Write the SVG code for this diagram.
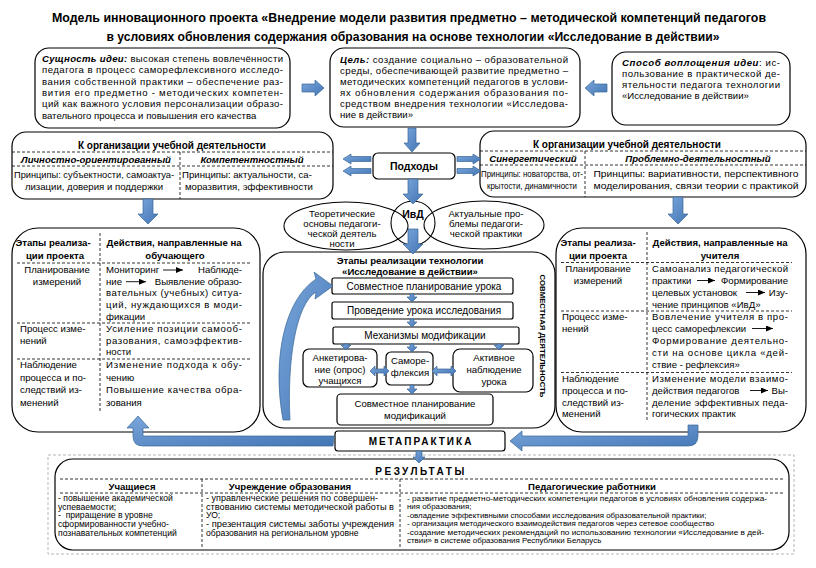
<svg xmlns="http://www.w3.org/2000/svg" width="816" height="568" viewBox="0 0 816 568">
<style>
.t{font-family:"Liberation Sans",Arial,sans-serif;font-size:9.6px;fill:#000}
.m{text-anchor:middle}
.e{text-anchor:end}
.b{font-weight:bold}
.bi{font-weight:bold;font-style:italic}
.ttl{font-family:"Liberation Sans",Arial,sans-serif;font-size:13px;font-weight:bold;text-anchor:middle}
.r{font-size:8.6px}
.rs{font-size:7.9px}
.box{fill:#fff;stroke:#000;stroke-width:1.2}
.dash{stroke:#000;stroke-width:0.8;stroke-dasharray:3 2;fill:none}
.arr{fill:url(#bl);stroke:#3a6797;stroke-width:0.7}
.ln{stroke:#000;stroke-width:0.9;fill:none;marker-end:url(#tri)}
</style>
<defs>
<linearGradient id="bl" x1="0" y1="0" x2="1" y2="1">
<stop offset="0" stop-color="#7aa6dc"/>
<stop offset="1" stop-color="#4376b5"/>
</linearGradient>
<marker id="tri" markerUnits="userSpaceOnUse" markerWidth="7" markerHeight="6" refX="7" refY="3" orient="auto">
<path d="M0,0 L7,3 L0,6 Z" fill="#000"/>
</marker>
</defs>
<rect width="816" height="568" fill="#fff"/>

<g id="title">
<text class="ttl" x="409" y="21.5" textLength="714" lengthAdjust="spacingAndGlyphs">Модель инновационного проекта «Внедрение модели развития предметно – методической компетенций педагогов</text>
<text class="ttl" x="413" y="40.5" textLength="613" lengthAdjust="spacingAndGlyphs">в условиях обновления содержания образования на основе технологии «Исследование в действии»</text>
</g>

<g id="idea">
<rect class="box" x="35" y="48" width="255" height="80" rx="14"/>
<text class="t" x="42" y="62" textLength="241" lengthAdjust="spacing"><tspan class="bi">Сущность идеи:</tspan> высокая степень вовлечённости</text>
<text class="t" x="42" y="73.3" textLength="241" lengthAdjust="spacing">педагога в процесс саморефлексивного исследо-</text>
<text class="t" x="42" y="84.6" textLength="241" lengthAdjust="spacing">вания собственной практики – обеспечение раз-</text>
<text class="t" x="42" y="96" textLength="241" lengthAdjust="spacing">вития его предметно -  методических компетен-</text>
<text class="t" x="42" y="107.3" textLength="241" lengthAdjust="spacing">ций как важного условия персонализации образо-</text>
<text class="t" x="42" y="118.6">вательного процесса и повышения его качества</text>
</g>

<g id="goal">
<rect class="box" x="330" y="48" width="250" height="79" rx="14"/>
<text class="t" x="340" y="63" textLength="228" lengthAdjust="spacing"><tspan class="bi">Цель:</tspan> создание социально – образовательной</text>
<text class="t" x="340" y="74" textLength="228" lengthAdjust="spacing">среды, обеспечивающей развитие предметно –</text>
<text class="t" x="340" y="85" textLength="228" lengthAdjust="spacing">методических компетенций педагогов в услови-</text>
<text class="t" x="340" y="96" textLength="228" lengthAdjust="spacing">ях обновления содержания образования по-</text>
<text class="t" x="340" y="107" textLength="228" lengthAdjust="spacing">средством внедрения технологии «Исследова-</text>
<text class="t" x="340" y="118">ние в действии»</text>
</g>

<g id="method">
<rect class="box" x="612" y="52" width="178" height="73" rx="14"/>
<text class="t" x="622" y="66" textLength="158" lengthAdjust="spacing"><tspan class="bi">Способ воплощения идеи</tspan>: ис-</text>
<text class="t" x="622" y="77" textLength="158" lengthAdjust="spacing">пользование в практической де-</text>
<text class="t" x="622" y="88" textLength="158" lengthAdjust="spacing">ятельности педагога технологии</text>
<text class="t" x="622" y="99">«Исследование в действии»</text>
</g>

<g id="approaches">
<rect class="box" x="373" y="153" width="82" height="26" rx="5"/>
<text class="t b m" x="414" y="169.5" style="font-size:10.5px">Подходы</text>
</g>

<g id="org-left">
<rect class="box" x="12" y="132" width="321" height="67" rx="14"/>
<text class="t b m" x="172" y="148.5" style="font-size:10px">К организации учебной деятельности</text>
<line class="dash" x1="12" y1="152" x2="333" y2="152"/>
<line class="dash" x1="12" y1="166" x2="333" y2="166"/>
<line class="dash" x1="180" y1="152" x2="180" y2="199"/>
<text class="t bi m" x="96" y="162.5">Личностно-ориентированный</text>
<text class="t bi m" x="252" y="162.5">Компетентностный</text>
<text class="t m" x="94" y="177.5" textLength="160" lengthAdjust="spacingAndGlyphs">Принципы: субъектности, самоактуа-</text>
<text class="t m" x="94" y="190">лизации, доверия и поддержки</text>
<text class="t m" x="247" y="177.5">Принципы: актуальности, са-</text>
<text class="t m" x="249" y="190">моразвития, эффективности</text>
</g>

<g id="org-right">
<rect class="box" x="480" y="131" width="326" height="66" rx="14"/>
<text class="t b m" x="627" y="147.5" style="font-size:10px">К организации учебной деятельности</text>
<line class="dash" x1="480" y1="151" x2="806" y2="151"/>
<line class="dash" x1="480" y1="165" x2="806" y2="165"/>
<line class="dash" x1="585" y1="151" x2="585" y2="197"/>
<text class="t bi m" x="533" y="161.5">Синергетический</text>
<text class="t bi m" x="698" y="161.5">Проблемно-деятельностный</text>
<text class="t m" x="532" y="176.5" textLength="102" lengthAdjust="spacingAndGlyphs">Принципы: новаторства, от-</text>
<text class="t m" x="532" y="188.5" textLength="90" lengthAdjust="spacingAndGlyphs">крытости, динамичности</text>
<text class="t m" x="696" y="176.5" textLength="205" lengthAdjust="spacingAndGlyphs">Принципы: вариативности, перспективного</text>
<text class="t m" x="696" y="188.5" textLength="205" lengthAdjust="spacingAndGlyphs">моделирования, связи теории с практикой</text>
</g>

<g id="theory">
<ellipse cx="346" cy="226" rx="62" ry="24" fill="none" stroke="#000" stroke-width="1.1"/>
<text class="t m" x="342" y="216.5">Теоретические</text>
<text class="t m" x="342" y="226.5">основы педагоги-</text>
<text class="t m" x="342" y="236.5">ческой деятель</text>
<text class="t m" x="342" y="247">ности</text>
</g>
<g id="problems">
<ellipse cx="484" cy="225" rx="60" ry="24" fill="none" stroke="#000" stroke-width="1.1"/>
<text class="t m" x="486" y="216.5">Актуальные про-</text>
<text class="t m" x="486" y="226.5">блемы педагоги-</text>
<text class="t m" x="486" y="236.5">ческой практики</text>
</g>
<g id="ivd">
<circle cx="413" cy="223" r="22" fill="none" stroke="#000" stroke-width="1.1"/>
<text class="t b m" x="413" y="218" style="font-size:10.5px">ИвД</text>
</g>

<g id="stages-left">
<rect class="box" x="12" y="228" width="248" height="204" rx="26"/>
<line class="dash" x1="100" y1="233" x2="100" y2="412"/>
<line class="dash" x1="17" y1="263" x2="250" y2="263"/>
<line class="dash" x1="17" y1="323" x2="250" y2="323"/>
<line class="dash" x1="17" y1="359" x2="250" y2="359"/>
<text class="t b m" x="53" y="246">Этапы реализа-</text>
<text class="t b m" x="55" y="259">ции проекта</text>
<text class="t b m" x="174" y="246">Действия, направленные на</text>
<text class="t b m" x="175" y="259">обучающего</text>
<text class="t m" x="57" y="273">Планирование</text>
<text class="t m" x="57" y="285">измерений</text>
<text class="t" x="106" y="273">Мониторинг</text>
<line class="ln" x1="163" y1="270" x2="183" y2="270"/>
<text class="t e" x="242" y="273">Наблюде-</text>
<text class="t" x="106" y="284.7">ние</text>
<line class="ln" x1="126" y1="281.7" x2="146" y2="281.7"/>
<text class="t e" x="242" y="284.7">Выявление образо-</text>
<text class="t" x="106" y="296.4" textLength="136" lengthAdjust="spacing">вательных (учебных) ситуа-</text>
<text class="t" x="106" y="308" textLength="136" lengthAdjust="spacing">ций, нуждающихся в моди-</text>
<text class="t" x="106" y="319.7">фикации</text>
<text class="t" x="20" y="332">Процесс изме-</text>
<text class="t" x="20" y="343.5">нений</text>
<text class="t" x="106" y="332" textLength="136" lengthAdjust="spacing">Усиление позиции самооб-</text>
<text class="t" x="106" y="343.5" textLength="136" lengthAdjust="spacing">разования,   самоэффектив-</text>
<text class="t" x="106" y="355">ности</text>
<text class="t" x="20" y="368">Наблюдение</text>
<text class="t" x="20" y="380.5">процесса и по-</text>
<text class="t" x="20" y="393">следствий из-</text>
<text class="t" x="20" y="405.5">менений</text>
<text class="t" x="106" y="368" textLength="136" lengthAdjust="spacing">Изменение подхода к обу-</text>
<text class="t" x="106" y="380.5">чению</text>
<text class="t" x="106" y="393" textLength="136" lengthAdjust="spacing">Повышение качества обра-</text>
<text class="t" x="106" y="405.5">зования</text>
</g>

<g id="stages-right">
<rect class="box" x="556" y="228" width="250" height="204" rx="26"/>
<line class="dash" x1="647" y1="232" x2="647" y2="420"/>
<line class="dash" x1="561" y1="262.5" x2="792" y2="262.5"/>
<line class="dash" x1="561" y1="311" x2="792" y2="311"/>
<line class="dash" x1="561" y1="372.5" x2="792" y2="372.5"/>
<text class="t b m" x="598" y="246">Этапы реализа-</text>
<text class="t b m" x="598" y="259">ции проекта</text>
<text class="t b m" x="720" y="246">Действия, направленные на</text>
<text class="t b m" x="720" y="259">учителя</text>
<text class="t m" x="598" y="271.5">Планирование</text>
<text class="t m" x="598" y="283.5">измерений</text>
<text class="t" x="652" y="271.5" textLength="136" lengthAdjust="spacing">Самоанализ педагогической</text>
<text class="t" x="652" y="283.5">практики</text>
<line class="ln" x1="697" y1="280.5" x2="715" y2="280.5"/>
<text class="t e" x="788" y="283.5">Формирование</text>
<text class="t" x="652" y="295.5">целевых установок</text>
<line class="ln" x1="746" y1="292.5" x2="765" y2="292.5"/>
<text class="t e" x="788" y="295.5">Изу-</text>
<text class="t" x="652" y="307.5">чение принципов «ИвД»</text>
<text class="t" x="562" y="320">Процесс изме-</text>
<text class="t" x="562" y="331.5">нений</text>
<text class="t" x="652" y="320" textLength="136" lengthAdjust="spacing">Вовлечение учителя в про-</text>
<text class="t" x="652" y="331.5">цесс саморефлексии</text>
<line class="ln" x1="752" y1="328.5" x2="773" y2="328.5"/>
<text class="t" x="652" y="343.5" textLength="136" lengthAdjust="spacing">Формирование   деятельно-</text>
<text class="t" x="652" y="355.5" textLength="136" lengthAdjust="spacing">сти на основе цикла «дей-</text>
<text class="t" x="652" y="367.5">ствие - рефлексия»</text>
<text class="t" x="562" y="381.5">Наблюдение</text>
<text class="t" x="562" y="393.5">процесса и по-</text>
<text class="t" x="562" y="405.5">следствий из-</text>
<text class="t" x="562" y="417">менений</text>
<text class="t" x="652" y="381.5" textLength="136" lengthAdjust="spacing">Изменение модели взаимо-</text>
<text class="t" x="652" y="393.5">действия педагогов</text>
<line class="ln" x1="750" y1="390.5" x2="768" y2="390.5"/>
<text class="t e" x="788" y="393.5">Вы-</text>
<text class="t" x="652" y="405.5" textLength="136" lengthAdjust="spacing">деление эффективных педа-</text>
<text class="t" x="652" y="417">гогических практик</text>
</g>

<g id="tech">
<rect class="box" x="263" y="252" width="292" height="176" rx="22"/>
<text class="t b m" x="410" y="263.5">Этапы реализации технологии</text>
<text class="t b m" x="410" y="274.5">«Исследование в действии»</text>
<text class="t b m" x="540" y="336" transform="rotate(90 540 336)" style="font-size:7.8px">СОВМЕСТНАЯ ДЕЯТЕЛЬНОСТЬ</text>
</g>
<g id="step-plan">
<rect class="box" x="332" y="278" width="181" height="16" rx="2"/>
<text class="t m" x="424" y="289.5" style="font-size:10px">Совместное планирование урока</text>
</g>
<g id="step-lesson">
<rect class="box" x="332" y="302" width="181" height="17" rx="2"/>
<text class="t m" x="424" y="314" style="font-size:10px">Проведение урока исследования</text>
</g>
<g id="step-mech">
<rect class="box" x="333" y="327" width="186" height="17" rx="2"/>
<text class="t m" x="425" y="339" style="font-size:10px">Механизмы модификации</text>
</g>
<g id="step-survey">
<rect class="box" x="303" y="349" width="74" height="38" rx="6"/>
<text class="t m" x="340" y="361">Анкетирова-</text>
<text class="t m" x="340" y="373">ние (опрос)</text>
<text class="t m" x="340" y="384">учащихся</text>
</g>
<g id="step-reflex">
<rect class="box" x="386" y="352" width="47" height="33" rx="5"/>
<text class="t m" x="410" y="364">Саморе-</text>
<text class="t m" x="410" y="376">флексия</text>
</g>
<g id="step-observe">
<rect class="box" x="453" y="349" width="80" height="43" rx="7"/>
<text class="t m" x="494" y="361">Активное</text>
<text class="t m" x="494" y="373">наблюдение</text>
<text class="t m" x="494" y="385">урока</text>
</g>
<g id="step-modplan">
<rect class="box" x="337" y="394" width="156" height="31" rx="4"/>
<text class="t m" x="415" y="406.5">Совместное планирование</text>
<text class="t m" x="415" y="418.5">модификаций</text>
</g>

<g id="metapraktika">
<rect class="box" x="335" y="431" width="170" height="20" rx="3"/>
<text class="t b m" x="421" y="445" style="font-size:10px;letter-spacing:2px">МЕТАПРАКТИКА</text>
</g>

<g id="results">
<rect x="48" y="455" width="746" height="99" fill="none" stroke="#999" stroke-width="0.7" stroke-dasharray="3 2"/>
<rect class="box" x="55" y="459" width="734" height="91" rx="18"/>
<text class="t b m" x="421" y="475" style="font-size:10px;letter-spacing:2.5px">РЕЗУЛЬТАТЫ</text>
<line class="dash" x1="60" y1="479" x2="785" y2="479"/>
<line class="dash" x1="60" y1="493" x2="785" y2="493"/>
<line class="dash" x1="202" y1="479" x2="202" y2="547"/>
<line class="dash" x1="400" y1="479" x2="400" y2="547"/>
<text class="t b m" x="132" y="489.5">Учащиеся</text>
<text class="t b m" x="290" y="489.5">Учреждение образования</text>
<text class="t b m" x="592" y="489.5">Педагогические работники</text>
<text class="t r" x="58" y="500.5">- повышение академической</text>
<text class="t r" x="58" y="509.5">успеваемости;</text>
<text class="t r" x="58" y="518" xml:space="preserve">-  приращение в уровне</text>
<text class="t r" x="58" y="527">сформированности учебно-</text>
<text class="t r" x="58" y="536">познавательных компетенций</text>
<text class="t r" x="206" y="500.5" textLength="172" lengthAdjust="spacingAndGlyphs">- управленческие решения по совершен-</text>
<text class="t r" x="206" y="509.5" textLength="188" lengthAdjust="spacingAndGlyphs">ствованию системы методической работы в</text>
<text class="t r" x="206" y="518">УО;</text>
<text class="t r" x="206" y="527" textLength="188" lengthAdjust="spacingAndGlyphs">- презентация системы заботы учреждения</text>
<text class="t r" x="206" y="536">образования на региональном уровне</text>
<text class="t rs" x="407" y="500.5" textLength="360" lengthAdjust="spacingAndGlyphs">- развитие предметно-методических компетенции педагогов в условиях обновления содержа-</text>
<text class="t rs" x="407" y="509">ния образования;</text>
<text class="t rs" x="407" y="517.5">-овладение эффективными способами исследования образовательной практики;</text>
<text class="t rs" x="407" y="526">- организация методического взаимодействия педагогов через сетевое сообщество</text>
<text class="t rs" x="407" y="534.5" textLength="357" lengthAdjust="spacingAndGlyphs">-создание методических рекомендаций по использованию технологии «Исследование в дей-</text>
<text class="t rs" x="407" y="543">ствии» в системе образования Республики Беларусь</text>
</g>

<g id="connectors">
<path class="arr" d="M302,84 L315,84 L315,80 L324,88 L315,96 L315,92 L302,92 Z"/>
<path class="arr" d="M607,84 L594,84 L594,80 L585,88 L594,96 L594,92 L607,92 Z"/>
<path class="arr" d="M408,128 L416,128 L416,143 L420,143 L412,152 L404,143 L408,143 Z"/>
<path class="arr" d="M371,156.5 L351,156.5 L351,154 L343,159 L351,164 L351,161.5 L371,161.5 Z"/>
<path class="arr" d="M371,168.5 L351,168.5 L351,166 L343,171 L351,176 L351,173.5 L371,173.5 Z"/>
<path class="arr" d="M457,156.5 L473,156.5 L473,154 L481,159 L473,164 L473,161.5 L457,161.5 Z"/>
<path class="arr" d="M457,168.5 L473,168.5 L473,166 L481,171 L473,176 L473,173.5 L457,173.5 Z"/>
<path class="arr" d="M408,179 L418,179 L418,194 L423,194 L413,204 L403,194 L408,194 Z"/>
<path class="arr" d="M408,229 L418,229 L418,244 L423,244 L413,254 L403,244 L408,244 Z"/>
<path class="arr" d="M143,199 L153,199 L153,214 L158,214 L148,224 L138,214 L143,214 Z"/>
<path class="arr" d="M673,197 L683,197 L683,214 L688,214 L678,224 L668,214 L673,214 Z"/>
<path class="arr" d="M410,294 L414,294 L414,297 L417,297 L412,302 L407,297 L410,297 Z"/>
<path class="arr" d="M410,319 L414,319 L414,322 L417,322 L412,327 L407,322 L410,322 Z"/>
<path class="arr" d="M344,344 L348,344 L348,345 L351,345 L346,350 L341,345 L344,345 Z"/>
<path class="arr" d="M410,344 L414,344 L414,347 L417,347 L412,352 L407,347 L410,347 Z"/>
<path class="arr" d="M497,344 L501,344 L501,345 L504,345 L499,350 L494,345 L497,345 Z"/>
<path class="arr" d="M410,385 L414,385 L414,389 L417,389 L412,394 L407,389 L410,389 Z"/>
<path class="arr" d="M370,371 L375,366 L375,369 L384,369 L384,366 L389,371 L384,376 L384,373 L375,373 L375,376 Z"/>
<path class="arr" d="M432,371 L437,366 L437,369 L451,369 L451,366 L456,371 L451,376 L451,373 L437,373 L437,376 Z"/>
<path class="arr" d="M283,420 C272,360 284,300 316,279 L314,272 L333,286 L315,299 L316,292 C296,304 287,360 290,420 Z"/>
<path class="arr" d="M334,436 L333,446 L143,446 Q133,446 133,436 L133,428 L127,428 L138,416 L149,428 L143,428 L143,436 Z"/>
<path class="arr" d="M688,425 L698,425 L698,436 Q698,446 688,446 L522,446 L522,451 L510,441 L522,431 L522,436 L688,436 Z"/>
<path class="arr" d="M416,451 L422,451 L422,457 L425,457 L419,463 L413,457 L416,457 Z"/>
</g>
</svg>
